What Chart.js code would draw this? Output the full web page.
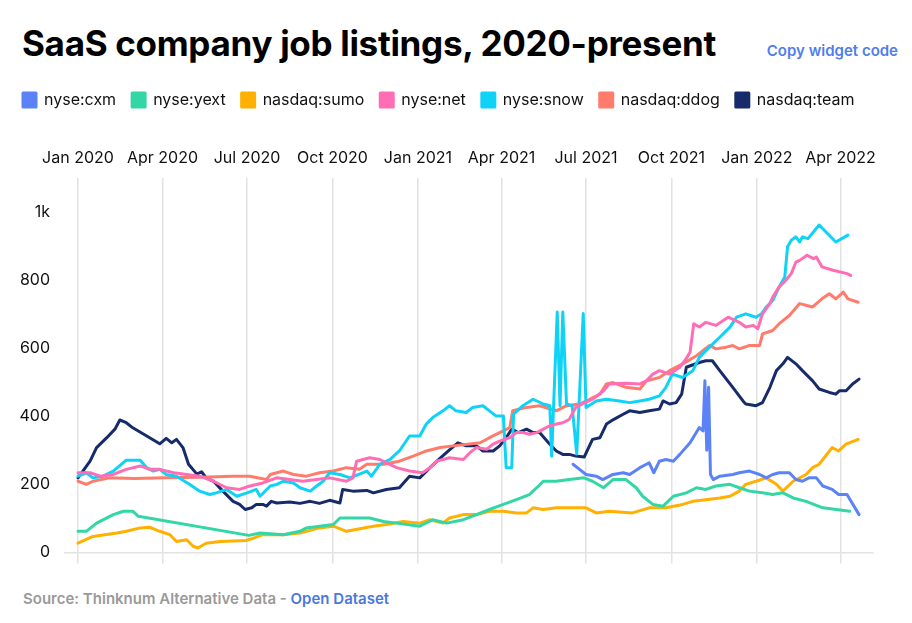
<!DOCTYPE html>
<html>
<head>
<meta charset="utf-8">
<script src="https://cdn.jsdelivr.net/npm/chart.js@4.4.1/dist/chart.umd.min.js"></script>
<style>
  body { margin: 0; width: 912px; height: 623px; background: #fff; font-family: Inter, sans-serif; position: relative; overflow: hidden; }
  #title { position: absolute; left: 22px; top: 26px; font-size: 35px; line-height: 35px; font-weight: 700; letter-spacing: -0.3px; color: #000; white-space: nowrap; }
  #copy { position: absolute; right: 14px; top: 41px; font-size: 15px; font-weight: 600; color: #4f7ded; }
  #chartBox { position: absolute; left: 0; top: 76px; }
  #source { position: absolute; left: 23px; top: 589px; font-size: 15px; font-weight: 600; color: #9a9a9a; }
  #source span { color: #4a78e0; }
</style>
</head>
<body>
<div id="title">SaaS company job listings, 2020-present</div>
<div id="copy">Copy widget code</div>
<div id="chartBox"><canvas id="jobsChart" width="912" height="493"></canvas></div>
<div id="source">Source: Thinknum Alternative Data - <span>Open Dataset</span></div>
<script>
// x values are days since 1 Jan 2020
const quarterDays = [0, 91, 182, 274, 366, 456, 547, 639, 731, 821];
const quarterLabels = ['Jan 2020', 'Apr 2020', 'Jul 2020', 'Oct 2020', 'Jan 2021',
  'Apr 2021', 'Jul 2021', 'Oct 2021', 'Jan 2022', 'Apr 2022'];
const yTicks = [0, 200, 400, 600, 800, 1000];

const tickers = ['nyse:cxm', 'nyse:yext', 'nasdaq:sumo', 'nyse:net', 'nyse:snow', 'nasdaq:ddog', 'nasdaq:team'];
const colors = ['#5b82f6', '#33d6a5', '#ffb000', '#ff6eb4', '#0fd2f7', '#ff7b6b', '#172b6b'];

const cxmJobs = [[533,259],[540,244],[547,229],[558,224],[565,214],[576,229],[587,234],[594,229],[605,249],[612,259],[615,263],[620,234],[626,268],[633,273],[641,268],[648,288],[659,322],[669,367],[673,357],[675,504],[677,300],[679,485],[681,229],[684,214],[691,224],[705,229],[712,234],[723,239],[734,229],[741,219],[748,229],[755,234],[766,234],[773,214],[780,209],[787,219],[795,219],[802,195],[812,185],[819,170],[828,170],[841,111]];

const yextJobs = [[0,62],[9,62],[20,86],[38,111],[49,121],[59,121],[65,106],[184,50],[196,57],[221,52],[239,62],[246,72],[260,77],[275,82],[282,101],[296,101],[314,101],[329,91],[343,86],[368,77],[382,96],[397,86],[415,96],[429,111],[443,126],[458,141],[472,155],[486,170],[494,190],[501,209],[515,209],[529,214],[545,219],[554,209],[566,190],[576,214],[590,214],[601,190],[608,165],[619,141],[630,136],[641,165],[655,175],[666,190],[676,185],[687,195],[702,200],[712,190],[723,180],[737,175],[748,170],[759,175],[770,160],[784,150],[802,131],[831,121]];

const sumoJobs = [[0,27],[16,47],[42,57],[52,62],[67,72],[77,74],[88,62],[99,52],[106,32],[117,37],[124,18],[129,13],[138,27],[153,32],[181,35],[189,42],[199,52],[221,52],[239,57],[260,72],[275,77],[289,62],[318,77],[332,82],[350,91],[368,86],[379,96],[393,86],[400,101],[415,111],[429,111],[443,121],[458,121],[472,116],[483,116],[490,131],[501,126],[515,131],[529,131],[547,131],[558,116],[572,121],[597,116],[615,131],[633,131],[651,141],[662,150],[676,155],[691,160],[702,165],[712,180],[719,200],[730,209],[741,219],[752,200],[759,180],[770,209],[784,229],[791,249],[798,259],[812,308],[819,298],[827,318],[840,332]];

const netJobs = [[0,234],[13,234],[24,224],[38,229],[52,244],[67,254],[77,244],[88,244],[103,234],[117,229],[131,224],[146,209],[160,190],[174,185],[185,195],[199,204],[214,219],[228,214],[242,209],[257,214],[271,219],[289,209],[296,219],[300,268],[314,278],[325,273],[343,249],[357,239],[371,234],[379,249],[386,268],[400,278],[415,273],[422,293],[429,308],[440,303],[447,318],[454,327],[465,337],[472,352],[479,352],[486,347],[494,352],[501,362],[508,372],[515,377],[522,381],[529,391],[536,426],[543,436],[554,450],[566,475],[572,495],[590,497],[605,495],[612,504],[619,524],[626,534],[637,524],[648,544],[655,570],[659,588],[663,672],[669,662],[676,676],[687,667],[700,691],[712,676],[719,662],[727,667],[732,657],[737,701],[745,731],[748,750],[755,780],[762,799],[768,819],[773,853],[777,858],[785,873],[792,863],[795,868],[801,839],[813,829],[828,819],[832,814]];

const snowJobs = [[0,224],[9,234],[16,219],[27,224],[38,239],[52,271],[67,271],[74,249],[81,239],[88,244],[95,229],[106,224],[120,200],[131,180],[142,170],[149,175],[160,185],[171,165],[182,175],[192,185],[196,165],[207,195],[214,200],[221,209],[232,204],[239,190],[250,180],[257,195],[264,209],[271,234],[282,229],[293,219],[311,239],[316,224],[325,259],[336,273],[346,298],[357,342],[368,342],[375,377],[382,396],[393,416],[400,431],[407,416],[418,411],[425,426],[436,431],[443,416],[450,401],[458,401],[461,249],[467,249],[469,406],[479,431],[490,450],[501,436],[508,431],[510,283],[516,706],[519,431],[522,706],[526,436],[532,431],[537,289],[544,702],[547,426],[558,445],[569,450],[583,445],[594,440],[605,445],[615,450],[626,460],[633,485],[640,524],[651,514],[662,534],[669,573],[680,603],[691,632],[702,662],[709,691],[719,701],[730,691],[736,701],[741,721],[748,740],[755,780],[761,809],[764,898],[768,917],[773,927],[777,912],[780,927],[786,922],[798,962],[816,912],[829,932]];

const ddogJobs = [[0,209],[9,200],[16,209],[34,219],[60,217],[95,219],[131,221],[167,224],[185,224],[203,214],[207,229],[221,239],[232,229],[246,224],[260,234],[275,239],[289,249],[303,244],[311,259],[329,259],[346,268],[361,283],[375,298],[390,308],[404,313],[433,322],[443,337],[458,357],[465,367],[468,416],[483,426],[497,431],[515,416],[526,431],[540,436],[551,450],[562,465],[569,495],[576,499],[590,485],[605,480],[612,504],[626,514],[637,534],[651,554],[666,578],[680,608],[687,598],[698,603],[705,608],[712,598],[723,608],[734,608],[737,642],[748,652],[755,672],[766,696],[777,731],[791,721],[801,745],[809,760],[816,745],[824,765],[829,745],[840,735]];

const teamJobs = [[0,219],[13,268],[20,308],[31,337],[40,363],[45,389],[52,381],[59,366],[74,342],[88,319],[95,335],[101,322],[106,332],[113,308],[119,259],[128,230],[133,237],[138,219],[146,209],[156,180],[167,150],[174,141],[180,126],[187,131],[192,141],[199,141],[203,136],[208,150],[214,145],[228,148],[239,144],[250,150],[260,144],[271,153],[282,145],[285,185],[296,180],[311,182],[318,175],[332,185],[346,190],[357,224],[368,219],[379,249],[390,277],[400,301],[409,322],[418,313],[429,313],[436,298],[447,298],[454,313],[461,337],[467,362],[474,352],[483,362],[490,352],[497,352],[508,318],[515,298],[522,288],[529,288],[536,283],[545,280],[554,332],[562,337],[569,377],[577,391],[587,406],[594,416],[605,411],[615,416],[626,421],[630,445],[637,436],[644,440],[650,465],[655,544],[669,558],[676,563],[683,563],[691,534],[705,485],[716,445],[719,436],[730,431],[737,440],[745,485],[752,534],[759,554],[764,573],[773,554],[780,534],[791,504],[798,480],[809,470],[816,465],[820,475],[827,475],[834,495],[841,509]];

const seriesData = [cxmJobs, yextJobs, sumoJobs, netJobs, snowJobs, ddogJobs, teamJobs];

const textColor = '#111';
const tickFont = { family: 'Inter', size: 16 };
const gridColor = '#e2e2e2';

function quarterTicks(scale) {
  scale.ticks = quarterDays.map(v => ({ value: v }));
}

new Chart(document.getElementById('jobsChart'), {
  type: 'line',
  data: {
    datasets: tickers.map((name, i) => ({
      label: name,
      data: seriesData[i],
      xAxisID: 'x',
      yAxisID: 'y',
      borderColor: colors[i],
      backgroundColor: colors[i],
      borderWidth: 3,
      pointRadius: 0,
      tension: 0,
      borderJoinStyle: 'round',
      borderCapStyle: 'round'
    }))
  },
  options: {
    responsive: false,
    animation: false,
    layout: { padding: { left: 7, right: 39, top: 0, bottom: 0 } },
    plugins: {
      legend: {
        position: 'top',
        align: 'start',
        labels: { boxWidth: 13, boxHeight: 14, padding: 16, color: textColor, font: tickFont }
      },
      tooltip: { enabled: false }
    },
    scales: {
      x: {
        type: 'linear',
        position: 'top',
        min: -14,
        max: 856,
        afterBuildTicks: quarterTicks,
        afterFit: s => { s.height = 60; },
        ticks: {
          callback: v => quarterLabels[quarterDays.indexOf(v)],
          padding: 10, maxRotation: 0, autoSkip: false, color: textColor, font: tickFont
        },
        grid: { color: gridColor, lineWidth: 1.5, drawTicks: false },
        border: { display: false }
      },
      x2: {
        type: 'linear',
        position: 'bottom',
        min: -14,
        max: 856,
        afterBuildTicks: quarterTicks,
        ticks: { display: false },
        grid: { drawOnChartArea: false, drawTicks: true, tickLength: 11, color: gridColor, lineWidth: 1.5 },
        border: { display: true, color: gridColor, width: 1.5 }
      },
      y: {
        min: 0,
        max: 1100,
        afterBuildTicks: s => { s.ticks = yTicks.map(v => ({ value: v })); },
        afterFit: s => { s.width = 58; },
        ticks: {
          callback: v => v >= 1000 ? (v / 1000) + 'k' : v,
          padding: 7, color: textColor, font: tickFont
        },
        grid: { display: false },
        border: { display: false }
      }
    }
  }
});
</script>
</body>
</html>
